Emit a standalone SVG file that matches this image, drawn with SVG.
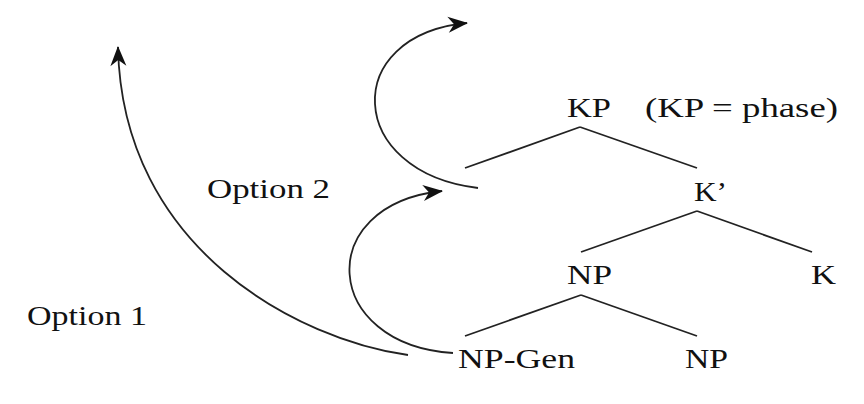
<svg xmlns="http://www.w3.org/2000/svg" width="864" height="404" viewBox="0 0 864 404">
<defs>
<style>
text{font-family:"Liberation Serif","Times New Roman",serif;font-size:27px;fill:#111;}
.edge{stroke:#222;stroke-width:1.8;fill:none;}
.arc{stroke:#222;stroke-width:1.8;fill:none;marker-end:url(#ah);}
</style>
<marker id="ah" viewBox="-22 -10 24 20" refX="0" refY="0" markerWidth="24" markerHeight="20" markerUnits="userSpaceOnUse" orient="auto">
<path d="M1,0 L-19,-8 L-13,0 L-19,8 Z" fill="#111"/>
</marker>
</defs>
<rect width="864" height="404" fill="#fff"/>
<g id="connectors">
<line class="edge" x1="580" y1="127" x2="465" y2="168"/>
<line class="edge" x1="580" y1="127" x2="697" y2="168"/>
<line class="edge" x1="697" y1="211" x2="581" y2="252"/>
<line class="edge" x1="697" y1="211" x2="812" y2="252"/>
<line class="edge" x1="581" y1="295" x2="465" y2="336"/>
<line class="edge" x1="581" y1="295" x2="697" y2="336"/>
<path class="arc" d="M408,355 C300,340 122,250 118,47"/>
<path class="arc" d="M453,353 C322,345 312,205 442,191"/>
<path class="arc" d="M478,188 C345,172 340,35 467,23"/>
</g>
<g id="node-KP"><text x="567" y="117" textLength="44" lengthAdjust="spacingAndGlyphs">KP</text></g>
<g id="note-phase"><text x="645" y="117" textLength="193" lengthAdjust="spacingAndGlyphs">(KP = phase)</text></g>
<g id="node-Kbar"><text x="694" y="201" textLength="33" lengthAdjust="spacingAndGlyphs">K’</text></g>
<g id="node-NP-mid"><text x="567" y="284" textLength="45" lengthAdjust="spacingAndGlyphs">NP</text></g>
<g id="node-K"><text x="811" y="284" textLength="25" lengthAdjust="spacingAndGlyphs">K</text></g>
<g id="node-NP-Gen"><text x="458" y="368" textLength="117" lengthAdjust="spacingAndGlyphs">NP-Gen</text></g>
<g id="node-NP-low"><text x="685" y="368" textLength="43" lengthAdjust="spacingAndGlyphs">NP</text></g>
<g id="label-option2"><text x="207" y="198" textLength="123" lengthAdjust="spacingAndGlyphs">Option 2</text></g>
<g id="label-option1"><text x="27" y="325" textLength="120" lengthAdjust="spacingAndGlyphs">Option 1</text></g>
</svg>
